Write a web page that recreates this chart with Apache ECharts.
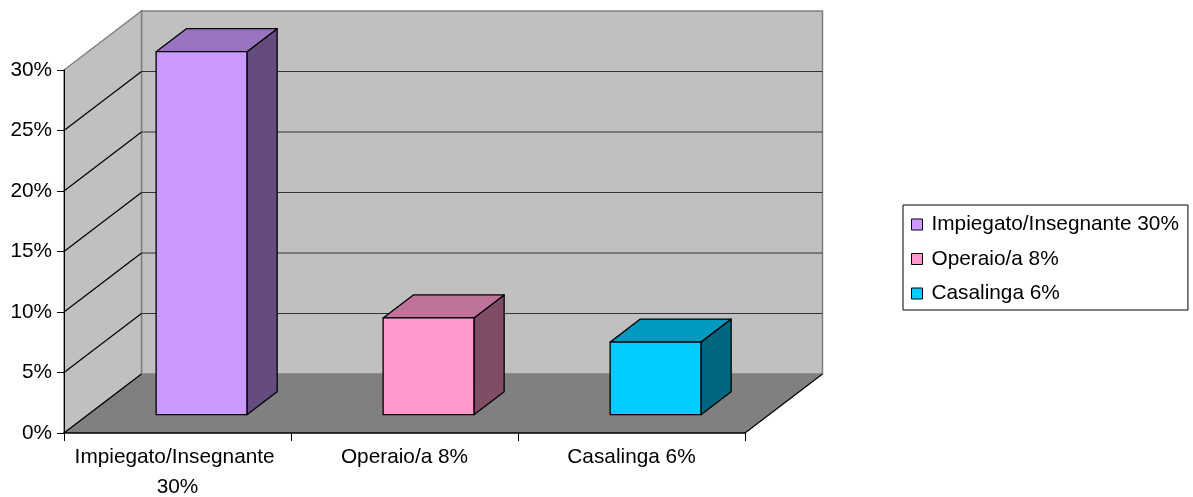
<!DOCTYPE html>
<html><head><meta charset="utf-8">
<script src="https://cdn.jsdelivr.net/npm/echarts@6/dist/echarts.min.js"></script>
<style>html,body{margin:0;padding:0;background:#fff}#c{width:1193px;height:497px}</style>
</head><body><div id="c"></div>
<script>
// ---- data ----
const categories = ['Impiegato/Insegnante 30%', 'Operaio/a 8%', 'Casalinga 6%'];
const values = [30, 8, 6];
const yMin = 0, yMax = 30, yStep = 5;
const yTickValues = [0, 5, 10, 15, 20, 25, 30];

// ---- styling ----
const faceColors = ['#CC99FF', '#FF99CC', '#00CCFF'];
const topColors  = ['#9A73C0', '#C0739A', '#0099C0'];
const sideColors = ['#654C80', '#804C66', '#006680'];
const DEPTH = [77.5, -59];       // 3D depth projection vector (px)
const BAR_FRONT = 0.31, BAR_BACK = 0.70, BAR_W = 0.40;
const FONT = 'Liberation Sans, Arial, sans-serif';
const FS = 20.8;

const chart = echarts.init(document.getElementById('c'), null, {renderer: 'canvas'});

function back(p) { return [p[0] + DEPTH[0], p[1] + DEPTH[1]]; }

function renderWalls(params, api) {
  const cs = params.coordSys;
  const gx = cs.x, gy = cs.y, gw = cs.width, gh = cs.height;
  const FLB = [gx, gy + gh], FLT = [gx, gy], FRB = [gx + gw, gy + gh], FRT = [gx + gw, gy];
  const children = [];
  // floor
  children.push({type: 'polygon', shape: {points: [FLB, FRB, back(FRB), back(FLB)]},
    style: {fill: '#808080', stroke: null}});
  // back wall
  children.push({type: 'polygon', shape: {points: [back(FLT), back(FRT), back(FRB), back(FLB)]},
    style: {fill: '#C0C0C0', stroke: '#808080', lineWidth: 1.5}});
  // left wall
  children.push({type: 'polygon', shape: {points: [FLB, FLT, back(FLT), back(FLB)]},
    style: {fill: '#C0C0C0', stroke: '#808080', lineWidth: 1.5}});
  yTickValues.forEach(function (t) {
    const y = api.coord([0, t])[1];
    if (t > yMin && t < yMax) {
      children.push({type: 'line', shape: {x1: back([gx, y])[0], y1: back([gx, y])[1], x2: back([gx + gw, y])[0], y2: back([gx + gw, y])[1]},
        style: {stroke: '#333', lineWidth: 1.2}});
    }
    if (t < yMax) {
      const b = back([gx, y]);
      children.push({type: 'line', shape: {x1: gx, y1: y, x2: b[0], y2: b[1]},
        style: {stroke: '#000', lineWidth: 1.2}});
    }
  });
  // floor right edge
  const br = back(FRB);
  children.push({type: 'line', shape: {x1: FRB[0], y1: FRB[1], x2: br[0], y2: br[1]},
    style: {stroke: '#000', lineWidth: 1.2}});
  return {type: 'group', children: children};
}

function makeBarRender(i) {
  return function (params, api) {
    const cat = api.value(0), val = api.value(1);
    const c0 = api.coord([cat, 0]);
    const c1 = api.coord([cat, val]);
    const bw = api.size([1, 0])[0] * BAR_W;
    const fx = BAR_FRONT * DEPTH[0], fy = BAR_FRONT * DEPTH[1];
    const ox = (BAR_BACK - BAR_FRONT) * DEPTH[0], oy = (BAR_BACK - BAR_FRONT) * DEPTH[1];
    const x0 = c0[0] - bw / 2 + fx, x1 = x0 + bw;
    const yb = c0[1] + fy, yt = c1[1] + fy;
    const st = {stroke: '#000', lineWidth: 1.3, lineJoin: 'round'};
    return {type: 'group', children: [
      {type: 'polygon', shape: {points: [[x1, yt], [x1 + ox, yt + oy], [x1 + ox, yb + oy], [x1, yb]]},
        style: Object.assign({fill: sideColors[i]}, st)},
      {type: 'polygon', shape: {points: [[x0, yt], [x0 + ox, yt + oy], [x1 + ox, yt + oy], [x1, yt]]},
        style: Object.assign({fill: topColors[i]}, st)},
      {type: 'polygon', shape: {points: [[x0, yt], [x1, yt], [x1, yb], [x0, yb]]},
        style: Object.assign({fill: faceColors[i]}, st)}
    ]};
  };
}

const series = [{
  type: 'custom', name: '__walls', z: 1, silent: true,
  renderItem: renderWalls, data: [[0, 0]], clip: false
}];
categories.forEach(function (name, i) {
  series.push({
    type: 'custom', name: name, z: 3, clip: false,
    itemStyle: {color: faceColors[i]},
    renderItem: makeBarRender(i),
    data: [[i, values[i]]]
  });
});

chart.setOption({
  animation: false,
  backgroundColor: '#fff',
  textStyle: {fontFamily: FONT},
  grid: {left: 64, right: 448, top: 70, bottom: 64, containLabel: false, outerBoundsMode: 'none'},
  xAxis: {
    type: 'category', data: categories, z: 10,
    axisLine: {show: true, lineStyle: {color: '#000', width: 1.5}},
    axisTick: {show: true, length: 8, lineStyle: {color: '#000'}},
    axisLabel: {interval: 0, color: '#000', fontSize: FS, fontFamily: FONT,
      width: 220, overflow: 'break', lineHeight: 30, margin: 9},
    splitLine: {show: false}
  },
  yAxis: {
    type: 'value', min: yMin, max: yMax, interval: yStep, z: 10,
    axisLine: {show: true, lineStyle: {color: '#000', width: 1}},
    axisTick: {show: true, length: 7, lineStyle: {color: '#000'}},
    axisLabel: {formatter: '{value}%', color: '#000', fontSize: FS, fontFamily: FONT, margin: 12},
    splitLine: {show: false}
  },
  legend: {
    data: categories, orient: 'vertical', left: 903, top: 205,
    padding: [9, 9, 6, 8], itemGap: 13.5, itemWidth: 11, itemHeight: 11, icon: 'rect',
    borderColor: '#000', borderWidth: 1, backgroundColor: '#fff',
    itemStyle: {borderColor: '#000', borderWidth: 1},
    textStyle: {fontSize: FS, color: '#000', fontFamily: FONT, lineHeight: 21, padding: [0, 0, 0, 4]}
  },
  series: series
});
</script>
</body></html>
